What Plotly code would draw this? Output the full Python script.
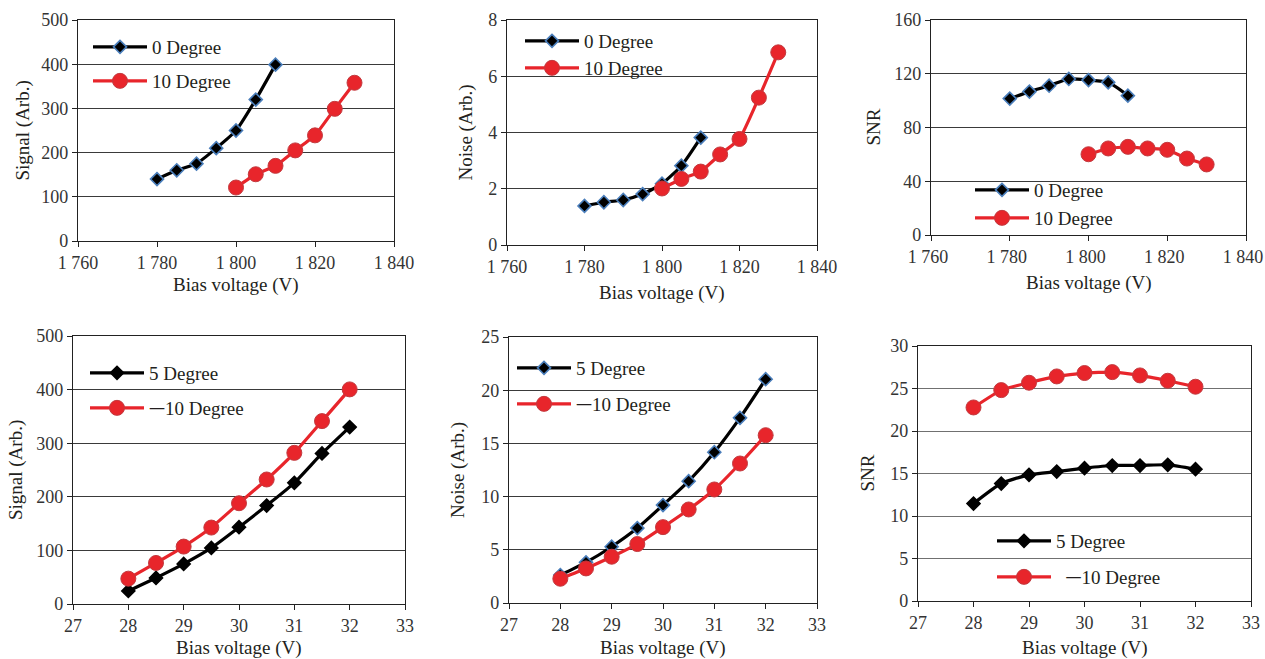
import plotly.graph_objects as go

W, H = 1265, 659

# ---------------- data ----------------
v_top_0 = [1780, 1785, 1790, 1795, 1800, 1805, 1810]
v_top_10 = [1800, 1805, 1810, 1815, 1820, 1825, 1830]
sig_0 = [140, 160, 175, 210, 250, 320, 399]
sig_10 = [121, 151, 170, 205, 239, 299, 358]
noise_0 = [1.39, 1.52, 1.60, 1.81, 2.18, 2.82, 3.82]
noise_10 = [2.01, 2.35, 2.61, 3.22, 3.77, 5.24, 6.85]
snr_0 = [101.5, 106.7, 111.1, 116.1, 115.3, 113.6, 103.7]
snr_10 = [60.1, 64.4, 65.6, 64.4, 63.4, 56.9, 52.5]

v_bot = [28, 28.5, 29, 29.5, 30, 30.5, 31, 31.5, 32]
sig_5 = [24.3, 48.6, 74.7, 104.6, 143.2, 183.7, 226, 280.8, 330]
sig_m10 = [47.3, 76.6, 107.1, 142.6, 188, 232.3, 282, 341.2, 400.4]
noise_5 = [2.63, 3.82, 5.29, 7.04, 9.2, 11.45, 14.17, 17.4, 21.03]
noise_m10 = [2.28, 3.25, 4.35, 5.54, 7.13, 8.79, 10.67, 13.11, 15.77]
snr_5 = [11.46, 13.82, 14.84, 15.23, 15.63, 15.94, 15.94, 16.02, 15.51]
snr_m10 = [22.77, 24.81, 25.68, 26.42, 26.82, 26.93, 26.54, 25.91, 25.21]

x_top_ticks = [1760, 1780, 1800, 1820, 1840]
x_top_text = ["1 760", "1 780", "1 800", "1 820", "1 840"]
x_bot_ticks = [27, 28, 29, 30, 31, 32, 33]

y_title_top = ["Signal (Arb.)", "Noise (Arb.)", "SNR"]
y_title_bot = ["Signal (Arb.)", "Noise (Arb.)", "SNR"]
x_title = "Bias voltage (V)"

DASH = '<span style="font-family:\'Noto Sans CJK SC\';font-size:16px">一</span>'
lab_0, lab_10 = "0 Degree", "10 Degree"
lab_5, lab_m10 = "5 Degree", DASH + "10 Degree"
lab_m10_wide = "  " + DASH + "10 Degree"

# ---------------- styling ----------------
FONT = "Liberation Serif"
TXT = "#231f20"
RED = "#e8252b"
RED_EDGE = "#c23a3f"
BLUE_EDGE = "#4a7ebb"

# panel geometry in pixels: (x0, x1, ytop, ybottom)
panels = [
    (78, 394, 20, 241),
    (507, 817, 20, 245),
    (931, 1246, 20, 235),
    (73, 405, 336, 604),
    (509, 817, 337, 603),
    (918, 1251, 346, 601),
]

panel_spec = [
    dict(xr=[1760, 1840], xt=x_top_ticks, xtt=x_top_text, yr=[0, 500], dy=100,
         ytitle=y_title_top[0], ytx=22, xty=285, grid="#3a3a3a", shift=0),
    dict(xr=[1760, 1840], xt=x_top_ticks, xtt=x_top_text, yr=[0, 8], dy=2,
         ytitle=y_title_top[1], ytx=465, xty=293, grid="#3a3a3a", shift=0),
    dict(xr=[1760, 1840], xt=x_top_ticks, xtt=x_top_text, yr=[0, 160], dy=40,
         ytitle=y_title_top[2], ytx=873, xty=283, grid="#3a3a3a", shift=-3),
    dict(xr=[27, 33], xt=x_bot_ticks, xtt=[str(t) for t in x_bot_ticks], yr=[0, 500], dy=100,
         ytitle=y_title_bot[0], ytx=16, xty=648, grid="#3a3a3a", shift=0),
    dict(xr=[27, 33], xt=x_bot_ticks, xtt=[str(t) for t in x_bot_ticks], yr=[0, 25], dy=5,
         ytitle=y_title_bot[1], ytx=458, xty=648, grid="#3a3a3a", shift=0),
    dict(xr=[27, 33], xt=x_bot_ticks, xtt=[str(t) for t in x_bot_ticks], yr=[0, 30], dy=5,
         ytitle=y_title_bot[2], ytx=867, xty=648, grid="#707070", shift=0),
]

series = [
    (0, v_top_0, sig_0, lab_0, "d", BLUE_EDGE, (93, 47)),
    (0, v_top_10, sig_10, lab_10, "c", RED_EDGE, (93, 81)),
    (1, v_top_0, noise_0, lab_0, "d", BLUE_EDGE, (525, 41)),
    (1, v_top_10, noise_10, lab_10, "c", RED_EDGE, (525, 68)),
    (2, v_top_0, snr_0, lab_0, "d", BLUE_EDGE, (975, 190)),
    (2, v_top_10, snr_10, lab_10, "c", RED_EDGE, (975, 218)),
    (3, v_bot, sig_5, lab_5, "d", "#000000", (90, 373)),
    (3, v_bot, sig_m10, lab_m10, "c", RED_EDGE, (90, 408)),
    (4, v_bot, noise_5, lab_5, "d", BLUE_EDGE, (517, 368)),
    (4, v_bot, noise_m10, lab_m10, "c", RED_EDGE, (517, 404)),
    (5, v_bot, snr_5, lab_5, "d", "#000000", (997, 541)),
    (5, v_bot, snr_m10, lab_m10_wide, "c", RED_EDGE, (997, 577)),
]

fig = go.Figure()
layout = dict(
    template="none",
    width=W, height=H,
    margin=dict(l=0, r=0, t=0, b=0, pad=0, autoexpand=False),
    paper_bgcolor="white", plot_bgcolor="white",
    font=dict(family=FONT, size=18, color=TXT),
    annotations=[],
)

for i, (x0, x1, yt, yb) in enumerate(panels):
    sp = panel_spec[i]
    sfx = "" if i == 0 else str(i + 1)
    ax = dict(
        domain=[x0 / W, x1 / W], range=sp["xr"], tickvals=sp["xt"], ticktext=sp["xtt"],
        showgrid=False, zeroline=False, showline=True, linecolor="#222", linewidth=1.3,
        mirror=True, ticks="outside", ticklen=5, tickcolor="#222", automargin=False,
        ticklabeloverflow="allow", ticklabelshift=sp["shift"],
        tickfont=dict(family=FONT, size=18, color="#333"),
        anchor="y" + sfx, fixedrange=True,
    )
    ay = dict(
        domain=[1 - yb / H, 1 - yt / H], range=sp["yr"], dtick=sp["dy"], tick0=0,
        showgrid=True, gridcolor=sp["grid"], gridwidth=1.3, zeroline=False,
        showline=True, linecolor="#222", linewidth=1.3, mirror=True,
        ticks="outside", ticklen=5, tickcolor="#222", automargin=False,
        ticklabeloverflow="allow",
        tickfont=dict(family=FONT, size=18, color="#333"),
        anchor="x" + sfx, fixedrange=True,
    )
    layout["xaxis" + sfx] = ax
    layout["yaxis" + sfx] = ay
    layout["annotations"].append(dict(
        text=x_title, xref="paper", yref="paper", x=((x0 + x1) / 2) / W, y=1 - sp["xty"] / H,
        xanchor="center", yanchor="middle", showarrow=False,
        font=dict(family=FONT, size=19, color=TXT)))
    layout["annotations"].append(dict(
        text=sp["ytitle"], xref="paper", yref="paper", x=sp["ytx"] / W, y=1 - ((yt + yb) / 2) / H,
        xanchor="center", yanchor="middle", showarrow=False, textangle=-90,
        font=dict(family=FONT, size=19, color=TXT)))

for k, (pi, xs, ys, name, kind, edge, (lx, ly)) in enumerate(series):
    sfx = "" if pi == 0 else str(pi + 1)
    lname = "legend" if k == 0 else "legend" + str(k + 1)
    if kind == "d":
        line = dict(color="#000000", width=3.2, shape="spline", smoothing=0.6)
        marker = dict(symbol="diamond", size=10, color="#000000", line=dict(color=edge, width=1.6))
    else:
        line = dict(color=RED, width=3.2, shape="spline", smoothing=0.4)
        marker = dict(symbol="circle", size=15, color=RED, line=dict(color=edge, width=1))
    fig.add_trace(go.Scatter(
        x=xs, y=ys, name=name, mode="lines+markers", line=line, marker=marker,
        xaxis="x" + sfx, yaxis="y" + sfx, legend=lname, showlegend=True,
    ))
    layout[lname] = dict(
        x=(lx - 5) / W, y=1 - ly / H, xanchor="left", yanchor="middle",
        bgcolor="rgba(0,0,0,0)", borderwidth=0, itemwidth=54,
        font=dict(family=FONT, size=19, color=TXT), itemclick=False, itemdoubleclick=False,
    )

fig.update_layout(**layout)
fig.write_html("out.html", config={"displayModeBar": False},
               post_script="document.body.style.margin='0';")
